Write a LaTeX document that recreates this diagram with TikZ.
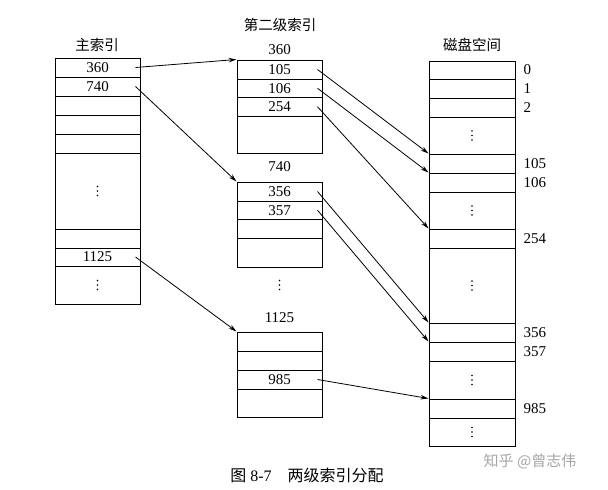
\documentclass[tikz,border=0pt]{standalone}
\usepackage{fontspec}
\setmainfont{Liberation Serif}
\newfontfamily\cjk{Noto Sans CJK SC}
\usetikzlibrary{arrows.meta}
\newcommand\mydots[1]{\foreach \dy in {-4.5,0,4.5} \fill ([yshift=\dy pt]#1) circle (0.95pt);}
\begin{document}
\begin{tikzpicture}[x=1pt,y=-1pt,
  cell/.style={draw, line width=1pt, inner sep=0pt, minimum width=85pt, font=\fontsize{15}{17}\selectfont},
  dcell/.style={cell, minimum width=86pt},
  title/.style={font=\cjk\fontsize{14.5}{17}\selectfont},
  num/.style={font=\fontsize{15}{17}\selectfont, inner sep=0pt},
  ptr/.style={line width=0.8pt, -{Stealth[length=8pt,width=4.5pt]}}]
\useasboundingbox (0,0) rectangle (608,490);
% main index
\node[title] (tm) at (97,45) {主索引};
\node[cell, minimum height=19pt] (m1) at (97.5,67.5) {360};
\node[cell, minimum height=19pt] (m2) at (97.5,86.5) {740};
\node[cell, minimum height=19pt] (m3) at (97.5,105.5) {};
\node[cell, minimum height=19pt] (m4) at (97.5,124.5) {};
\node[cell, minimum height=19pt] (m5) at (97.5,143.5) {};
\node[cell, minimum height=76pt] (m6) at (97.5,191) {};
\node[cell, minimum height=19pt] (m7) at (97.5,238.5) {};
\node[cell, minimum height=18pt] (m8) at (97.5,257) {1125};
\node[cell, minimum height=38pt] (m9) at (97.5,285) {};
\mydots{m6.center}
\mydots{m9.center}
% second level
\node[title] (ts) at (280,25) {第二级索引};
\node[num] (la) at (279.5,50) {360};
\node[cell, minimum height=19pt] (a1) at (279.5,69.5) {105};
\node[cell, minimum height=18.5pt] (a2) at (279.5,88.25) {106};
\node[cell, minimum height=18.5pt] (a3) at (279.5,106.75) {254};
\node[cell, minimum height=37pt] (a4) at (279.5,134.5) {};
\node[num] (lb) at (279.5,167) {740};
\node[cell, minimum height=19pt] (b1) at (279.5,191.5) {356};
\node[cell, minimum height=18.5pt] (b2) at (279.5,210.25) {357};
\node[cell, minimum height=18.5pt] (b3) at (279.5,228.75) {};
\node[cell, minimum height=29pt] (b4) at (279.5,252.5) {};
\coordinate (vd) at (279.5,285);
\mydots{vd}
\node[num] (lc) at (279.5,318) {1125};
\node[cell, minimum height=19pt] (c1) at (279.5,341.5) {};
\node[cell, minimum height=19pt] (c2) at (279.5,360.5) {};
\node[cell, minimum height=19pt] (c3) at (279.5,379.5) {985};
\node[cell, minimum height=28pt] (c4) at (279.5,403) {};
% disk
\node[title] (td) at (472,45) {磁盘空间};
\node[dcell, minimum height=18pt] (d0) at (472,70) {};
\node[dcell, minimum height=19pt] (d1) at (472,88.5) {};
\node[dcell, minimum height=19pt] (d2) at (472,107.5) {};
\node[dcell, minimum height=37pt] (dA) at (472,135.5) {};
\node[dcell, minimum height=19pt] (d105) at (472,163.5) {};
\node[dcell, minimum height=19pt] (d106) at (472,182.5) {};
\node[dcell, minimum height=37pt] (dB) at (472,210.5) {};
\node[dcell, minimum height=19pt] (d254) at (472,238.5) {};
\node[dcell, minimum height=75pt] (dC) at (472,285.5) {};
\node[dcell, minimum height=19pt] (d356) at (472,332.5) {};
\node[dcell, minimum height=19pt] (d357) at (472,351.5) {};
\node[dcell, minimum height=38pt] (dD) at (472,380) {};
\node[dcell, minimum height=19pt] (d985) at (472,408.5) {};
\node[dcell, minimum height=28pt] (dE) at (472,432) {};
\foreach \n in {dA,dB,dC,dD,dE} {\mydots{\n.center}}
% disk labels
\foreach \n/\t in {d0/0,d1/1,d2/2,d105/105,d106/106,d254/254,d356/356,d357/357,d985/985}
  \node[num, anchor=west] (l\n) at ([xshift=8pt]\n.east) {\t};
% pointers
\draw[ptr] ([xshift=-5pt]m1.east) -- (a1.north west);
\draw[ptr] ([xshift=-5pt]m2.east) -- (b1.north west);
\draw[ptr] ([xshift=-5pt]m8.east) -- (c1.north west);
\draw[ptr] ([xshift=-5pt]a1.east) -- (d105.north west);
\draw[ptr] ([xshift=-5pt]a2.east) -- (d106.north west);
\draw[ptr] ([xshift=-5pt]a3.east) -- (d254.north west);
\draw[ptr] ([xshift=-5pt]b1.east) -- (d356.north west);
\draw[ptr] ([xshift=-5pt]b2.east) -- (d357.north west);
\draw[ptr] ([xshift=-5pt]c3.east) -- (d985.north west);
% caption
\node[font=\fontsize{16}{18}\selectfont] (cap) at (307,475) {{\cjk 图} 8-7\quad{\cjk 两级索引分配}};
\node[font=\cjk\fontsize{15}{17}\selectfont, text=black!35] (wm) at (530,461) {知乎 @曾志伟};
\end{tikzpicture}
\end{document}
